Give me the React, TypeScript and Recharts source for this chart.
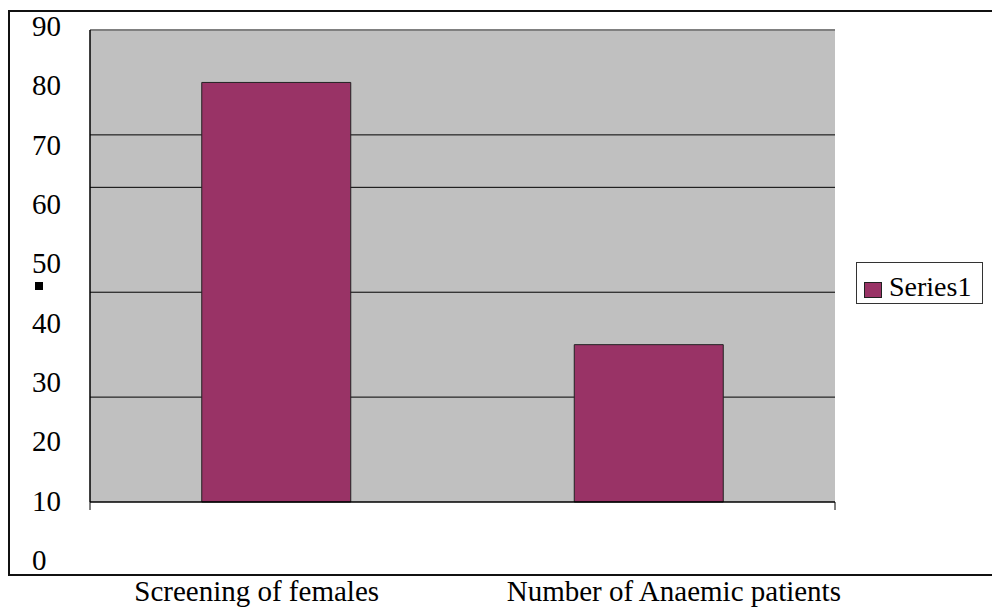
import { BarChart, Bar, XAxis, YAxis, CartesianGrid, ReferenceLine } from 'recharts';

const categories = ['Screening of females', 'Number of Anaemic patients'];
const series1 = [80, 30];
const seriesName = 'Series1';
const yTicks = [0, 10, 20, 30, 40, 50, 60, 70, 80, 90];
const gridValues = [70, 60, 40, 20];
const dividerTicks = [0, 1, 2];

const data = categories.map((name, i) => ({ name, [seriesName]: series1[i] }));

const FONT = "'Liberation Serif', 'Times New Roman', serif";

// the value labels on the left sit on their own (looser) spacing than the plot
const LABEL_TOP = 26;
const LABEL_BOTTOM = 560;

function YLabel(props: any) {
  const v = props.payload.value;
  const cy = LABEL_BOTTOM - (v / 90) * (LABEL_BOTTOM - LABEL_TOP);
  return (
    <text x={32} y={cy + 10} fontSize={29} fontFamily={FONT} fill="#000" textAnchor="start">
      {v}
    </text>
  );
}

function XLabel(props: any) {
  return (
    <text x={props.x - 142} y={601} fontSize={29} fontFamily={FONT} fill="#000" textAnchor="start">
      {props.payload.value}
    </text>
  );
}

const NoLabel = () => <g />;

export default function App() {
  return (
    <div style={{ position: 'absolute', left: 0, top: 0, width: 992, height: 607, background: '#fff', overflow: 'hidden' }}>
      <div
        style={{
          position: 'absolute',
          left: 8,
          top: 10,
          width: 990,
          height: 566,
          boxSizing: 'border-box',
          border: '2px solid #111',
          borderRight: 'none',
        }}
      />
      <div style={{ position: 'absolute', left: 35, top: 282, width: 8, height: 8, background: '#000' }} />
      <div style={{ position: 'absolute', left: 0, top: 0 }}>
        <BarChart
          width={992}
          height={607}
          data={data}
          margin={{ top: 30, right: 157, bottom: 0, left: 0 }}
          barCategoryGap="30%"
        >
          <CartesianGrid
            xAxisId="names"
            vertical={false}
            horizontalValues={gridValues}
            stroke="#000"
            strokeOpacity={1}
            fill="#C0C0C0"
            fillOpacity={1}
          />
          <XAxis
            xAxisId="edge"
            type="number"
            domain={[0, 2]}
            ticks={dividerTicks}
            height={1}
            axisLine={{ stroke: '#000', strokeWidth: 1.5 }}
            tick={<NoLabel />}
            tickSize={8}
            tickLine={{ stroke: '#000', strokeWidth: 1 }}
            interval={0}
          />
          <XAxis
            xAxisId="names"
            dataKey="name"
            height={104}
            axisLine={false}
            tickLine={false}
            tick={<XLabel />}
            interval={0}
          />
          <YAxis
            width={90}
            domain={[0, 90]}
            ticks={yTicks}
            axisLine={{ stroke: '#000', strokeWidth: 1.5 }}
            tickLine={false}
            tick={<YLabel />}
            interval={0}
          />
          <ReferenceLine y={90} stroke="#808080" strokeWidth={2} xAxisId="names" />
          <ReferenceLine x={2} stroke="#808080" strokeWidth={2} xAxisId="edge" />
          <Bar
            xAxisId="names"
            dataKey={seriesName}
            fill="#993366"
            stroke="#222"
            strokeWidth={1}
            isAnimationActive={false}
          />
        </BarChart>
      </div>
      <div
        style={{
          position: 'absolute',
          left: 856,
          top: 262,
          width: 127,
          height: 42,
          boxSizing: 'border-box',
          border: '1px solid #333',
          background: '#fff',
          fontFamily: FONT,
          fontSize: 28,
          lineHeight: '28px',
        }}
      >
        <span
          style={{
            position: 'absolute',
            left: 7,
            top: 19,
            width: 16,
            height: 14,
            background: '#993366',
            border: '1px solid #222',
          }}
        />
        <span style={{ position: 'absolute', left: 32, top: 10 }}>{seriesName}</span>
      </div>
    </div>
  );
}
